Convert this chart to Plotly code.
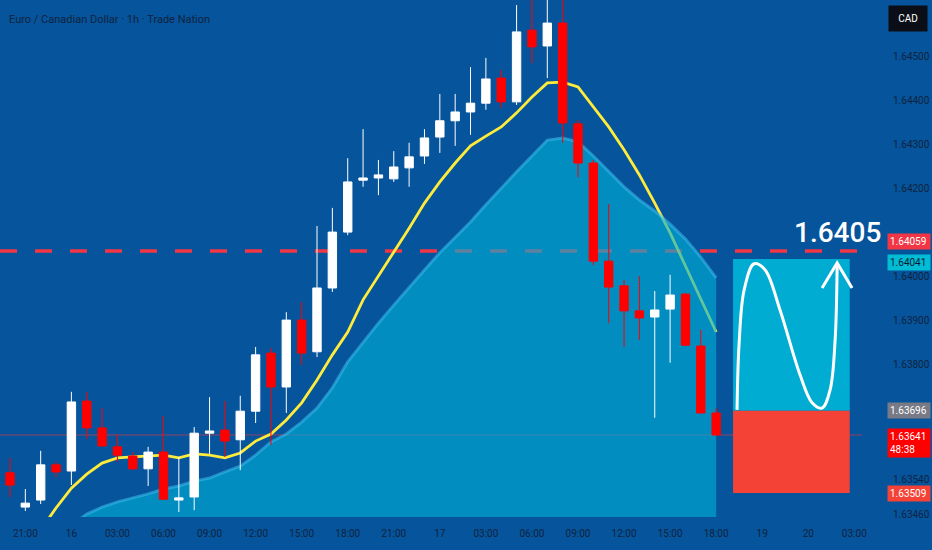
import plotly.graph_objects as go

# ---------------- data ----------------
title_text = "Euro / Canadian Dollar · 1h · Trade Nation"

candle_idx = list(range(47))
opens = [1.63555, 1.63477, 1.63493, 1.63573, 1.63559, 1.63718, 1.63657, 1.63614, 1.63593, 1.63564,
         1.63602, 1.63493, 1.63500, 1.63645, 1.63652, 1.63630, 1.63695, 1.63827, 1.63750, 1.63902,
         1.63830, 1.63975, 1.64102, 1.64220, 1.64225, 1.64223, 1.64248, 1.64275, 1.64318, 1.64355,
         1.64375, 1.64395, 1.64452, 1.64398, 1.64561, 1.64525, 1.64577, 1.64348, 1.64259, 1.64036,
         1.63980, 1.63923, 1.63909, 1.63927, 1.63961, 1.63843, 1.63691]
highs = [1.63589, 1.63518, 1.63605, 1.63580, 1.63739, 1.63739, 1.63702, 1.63643, 1.63602, 1.63614,
         1.63684, 1.63591, 1.63659, 1.63727, 1.63718, 1.63730, 1.63841, 1.63839, 1.63920, 1.63943,
         1.64116, 1.64157, 1.64270, 1.64336, 1.64266, 1.64286, 1.64305, 1.64336, 1.64416, 1.64416,
         1.64477, 1.64498, 1.64470, 1.64618, 1.64641, 1.64641, 1.64636, 1.64357, 1.64266, 1.64166,
         1.63993, 1.64002, 1.63968, 1.64005, 1.63964, 1.63880, 1.63702]
lows = [1.63500, 1.63468, 1.63484, 1.63545, 1.63527, 1.63632, 1.63614, 1.63580, 1.63561, 1.63525,
        1.63493, 1.63466, 1.63470, 1.63598, 1.63591, 1.63561, 1.63668, 1.63618, 1.63691, 1.63800,
        1.63818, 1.63966, 1.64095, 1.64205, 1.64186, 1.64216, 1.64205, 1.64257, 1.64282, 1.64298,
        1.64323, 1.64380, 1.64384, 1.64391, 1.64486, 1.64452, 1.64305, 1.64227, 1.64027, 1.63895,
        1.63841, 1.63857, 1.63680, 1.63805, 1.63843, 1.63690, 1.63639]
closes = [1.63527, 1.63486, 1.63573, 1.63557, 1.63716, 1.63657, 1.63616, 1.63595, 1.63564, 1.63602,
          1.63495, 1.63498, 1.63645, 1.63650, 1.63627, 1.63695, 1.63823, 1.63750, 1.63902, 1.63827,
          1.63975, 1.64102, 1.64216, 1.64225, 1.64232, 1.64250, 1.64273, 1.64316, 1.64355, 1.64375,
          1.64395, 1.64450, 1.64398, 1.64557, 1.64523, 1.64577, 1.64350, 1.64259, 1.64036, 1.63977,
          1.63923, 1.63907, 1.63925, 1.63959, 1.63845, 1.63691, 1.63641]

# fast moving average (yellow line), from candle 2
ema_idx = list(range(2, 47))
ema_vals = [1.63425, 1.63475, 1.63520, 1.63552, 1.63577, 1.63589, 1.63591, 1.63593, 1.63595, 1.63589,
            1.63598, 1.63595, 1.63589, 1.63600, 1.63627, 1.63643, 1.63675, 1.63714, 1.63766, 1.63823,
            1.63875, 1.63948, 1.64002, 1.64055, 1.64111, 1.64168, 1.64216, 1.64259, 1.64298, 1.64320,
            1.64341, 1.64373, 1.64409, 1.64441, 1.64443, 1.64432, 1.64386, 1.64341, 1.64289, 1.64232,
            1.64168, 1.64100, 1.64025, 1.63948, 1.63875]

# slow moving average (filled area), from candle 3
area_idx = list(range(3, 47))
area_vals = [1.63420, 1.63436, 1.63461, 1.63477, 1.63489, 1.63498, 1.63507, 1.63518, 1.63525, 1.63536,
             1.63543, 1.63557, 1.63570, 1.63595, 1.63625, 1.63643, 1.63670, 1.63702, 1.63748, 1.63807,
             1.63852, 1.63895, 1.63936, 1.63977, 1.64016, 1.64055, 1.64089, 1.64125, 1.64164, 1.64202,
             1.64239, 1.64275, 1.64311, 1.64316, 1.64307, 1.64275, 1.64239, 1.64205, 1.64175, 1.64150,
             1.64120, 1.64086, 1.64045, 1.63998]

x_tick_idx = [1, 4, 7, 10, 13, 16, 19, 22, 25, 28, 31, 34, 37, 40, 43, 46, 49, 52, 55]
x_tick_text = ["21:00", "16", "03:00", "06:00", "09:00", "12:00", "15:00", "18:00", "21:00", "17",
               "03:00", "06:00", "09:00", "12:00", "15:00", "18:00", "19", "20", "03:00"]
y_tick_vals = [1.6346, 1.6354, 1.638, 1.639, 1.640, 1.642, 1.643, 1.644, 1.645]
y_tick_text = ["1.63460", "1.63540", "1.63800", "1.63900", "1.64000", "1.64200", "1.64300", "1.64400", "1.64500"]

level_line = 1.64059      # dashed red level
last_price = 1.63641
target_price = 1.64041
entry_price = 1.63696
stop_price = 1.63509
box_idx = [47.1, 54.7]
target_text = "1.6405"
countdown = "48:38"

# hand-drawn projection path (index, price)
path_idx = [47.36, 47.49, 47.82, 48.47, 49.19, 50.16, 51.47, 52.25, 52.90, 53.42, 53.75, 53.88]
path_px = [1.63698, 1.63845, 1.63970, 1.64030, 1.64016, 1.63925, 1.63777, 1.63714, 1.63702, 1.63743, 1.63857, 1.64027]
arrow_idx = [52.90, 53.88, 54.85]
arrow_px = [1.63975, 1.64032, 1.63975]

# ---------------- style ----------------
BG = "#06549b"
TXT = "#0f2340"
FONT = "Roboto, Liberation Sans, sans-serif"
x_range = [-0.65, 55.5]
y_range = [1.634545, 1.646295]

fig = go.Figure()

# base layer: level line, current price line, fast MA, then translucent slow-MA area
fig.add_trace(go.Scatter(x=x_range, y=[level_line, level_line], mode="lines",
                         line=dict(color="#f23645", width=3.5, dash="17px,18px"), hoverinfo="skip"))
fig.add_trace(go.Scatter(x=x_range, y=[last_price, last_price], mode="lines",
                         line=dict(color="rgba(242,54,69,0.6)", width=1), hoverinfo="skip"))
fig.add_trace(go.Scatter(x=ema_idx, y=ema_vals, mode="lines",
                         line=dict(color="#ffeb3b", width=2.8), hoverinfo="skip"))
fig.add_trace(go.Scatter(x=area_idx, y=area_vals, mode="lines", fill="tozeroy",
                         fillcolor="rgba(0,176,216,0.62)",
                         line=dict(color="rgba(60,190,235,0.55)", width=3), hoverinfo="skip"))

# overlay layer: candles and trade projection
fig.add_trace(go.Candlestick(x=candle_idx, open=opens, high=highs, low=lows, close=closes,
                             increasing=dict(line=dict(color="#ffffff", width=1), fillcolor="#ffffff"),
                             decreasing=dict(line=dict(color="#ff0000", width=1), fillcolor="#ff0000"),
                             whiskerwidth=0, xaxis="x2", yaxis="y2", hoverinfo="skip"))
fig.add_trace(go.Scatter(x=[box_idx[0], box_idx[1], box_idx[1], box_idx[0], box_idx[0]],
                         y=[entry_price, entry_price, target_price, target_price, entry_price],
                         mode="lines", fill="toself", fillcolor="#00acd2", line=dict(width=0),
                         xaxis="x2", yaxis="y2", hoverinfo="skip"))
fig.add_trace(go.Scatter(x=[box_idx[0], box_idx[1], box_idx[1], box_idx[0], box_idx[0]],
                         y=[stop_price, stop_price, entry_price, entry_price, stop_price],
                         mode="lines", fill="toself", fillcolor="#f44336", line=dict(width=0),
                         xaxis="x2", yaxis="y2", hoverinfo="skip"))
fig.add_trace(go.Scatter(x=path_idx, y=path_px, mode="lines", line=dict(color="white", width=3, shape="spline"),
                         xaxis="x2", yaxis="y2", hoverinfo="skip"))
fig.add_trace(go.Scatter(x=arrow_idx, y=arrow_px, mode="lines", line=dict(color="white", width=3),
                         xaxis="x2", yaxis="y2", hoverinfo="skip"))

annotations = [
    dict(text=title_text, xref="paper", yref="paper", x=0.008, y=1 - 19 / 517, xanchor="left", yanchor="middle",
         showarrow=False, font=dict(family=FONT, size=11, color=TXT)),
    dict(text="CAD", xref="paper", yref="paper", x=1.0, y=1 - 18 / 517, xanchor="left", yanchor="middle",
         xshift=26, showarrow=False, bgcolor="#0b0e16", borderpad=7, width=24,
         font=dict(family=FONT, size=10, color="white")),
    dict(text=target_text, xref="x", yref="y", x=53.9, y=1.64100, showarrow=False,
         font=dict(family=FONT, size=28, color="white", weight=500)),
]
labels = [
    (f"{level_line:.5f}", level_line, 10, "#f23645", "white"),
    (f"{target_price:.5f}", target_price, -4, "#00bcd4", "#0b1a33"),
    (f"{entry_price:.5f}", entry_price, 0, "#787b86", "white"),
    (f"{last_price:.5f}<br>{countdown}", last_price, -8, "#ff0000", "white"),
    (f"{stop_price:.5f}", stop_price, 0, "#f44336", "white"),
]
for txt, yv, ys, bg, fc in labels:
    annotations.append(dict(text=txt, xref="paper", yref="y", x=1.0, y=yv, xanchor="left", yanchor="middle",
                            xshift=25, yshift=ys, showarrow=False, bgcolor=bg, borderpad=2, width=38,
                            align="left", font=dict(family=FONT, size=10, color=fc)))

fig.update_layout(
    width=932, height=550, margin=dict(l=0, r=70, t=0, b=33),
    paper_bgcolor=BG, plot_bgcolor=BG, showlegend=False,
    xaxis=dict(range=x_range, tickmode="array", tickvals=x_tick_idx, ticktext=x_tick_text,
               showgrid=False, zeroline=False, showline=False, ticks="", ticklabelstandoff=9,
               tickfont=dict(family=FONT, size=10, color=TXT), rangeslider=dict(visible=False)),
    yaxis=dict(range=y_range, side="right", tickmode="array", tickvals=y_tick_vals, ticktext=y_tick_text,
               showgrid=False, zeroline=False, showline=False, ticks="", ticklabelstandoff=30,
               tickfont=dict(family=FONT, size=10, color=TXT)),
    xaxis2=dict(range=x_range, overlaying="x", anchor="y2", visible=False, rangeslider=dict(visible=False)),
    yaxis2=dict(range=y_range, overlaying="y", anchor="x2", visible=False),
    boxgap=0.22,
    annotations=annotations,
)

fig.write_html("out.html", config={"displayModeBar": False},
               post_script="document.body.style.margin='0';document.body.style.overflow='hidden';")
